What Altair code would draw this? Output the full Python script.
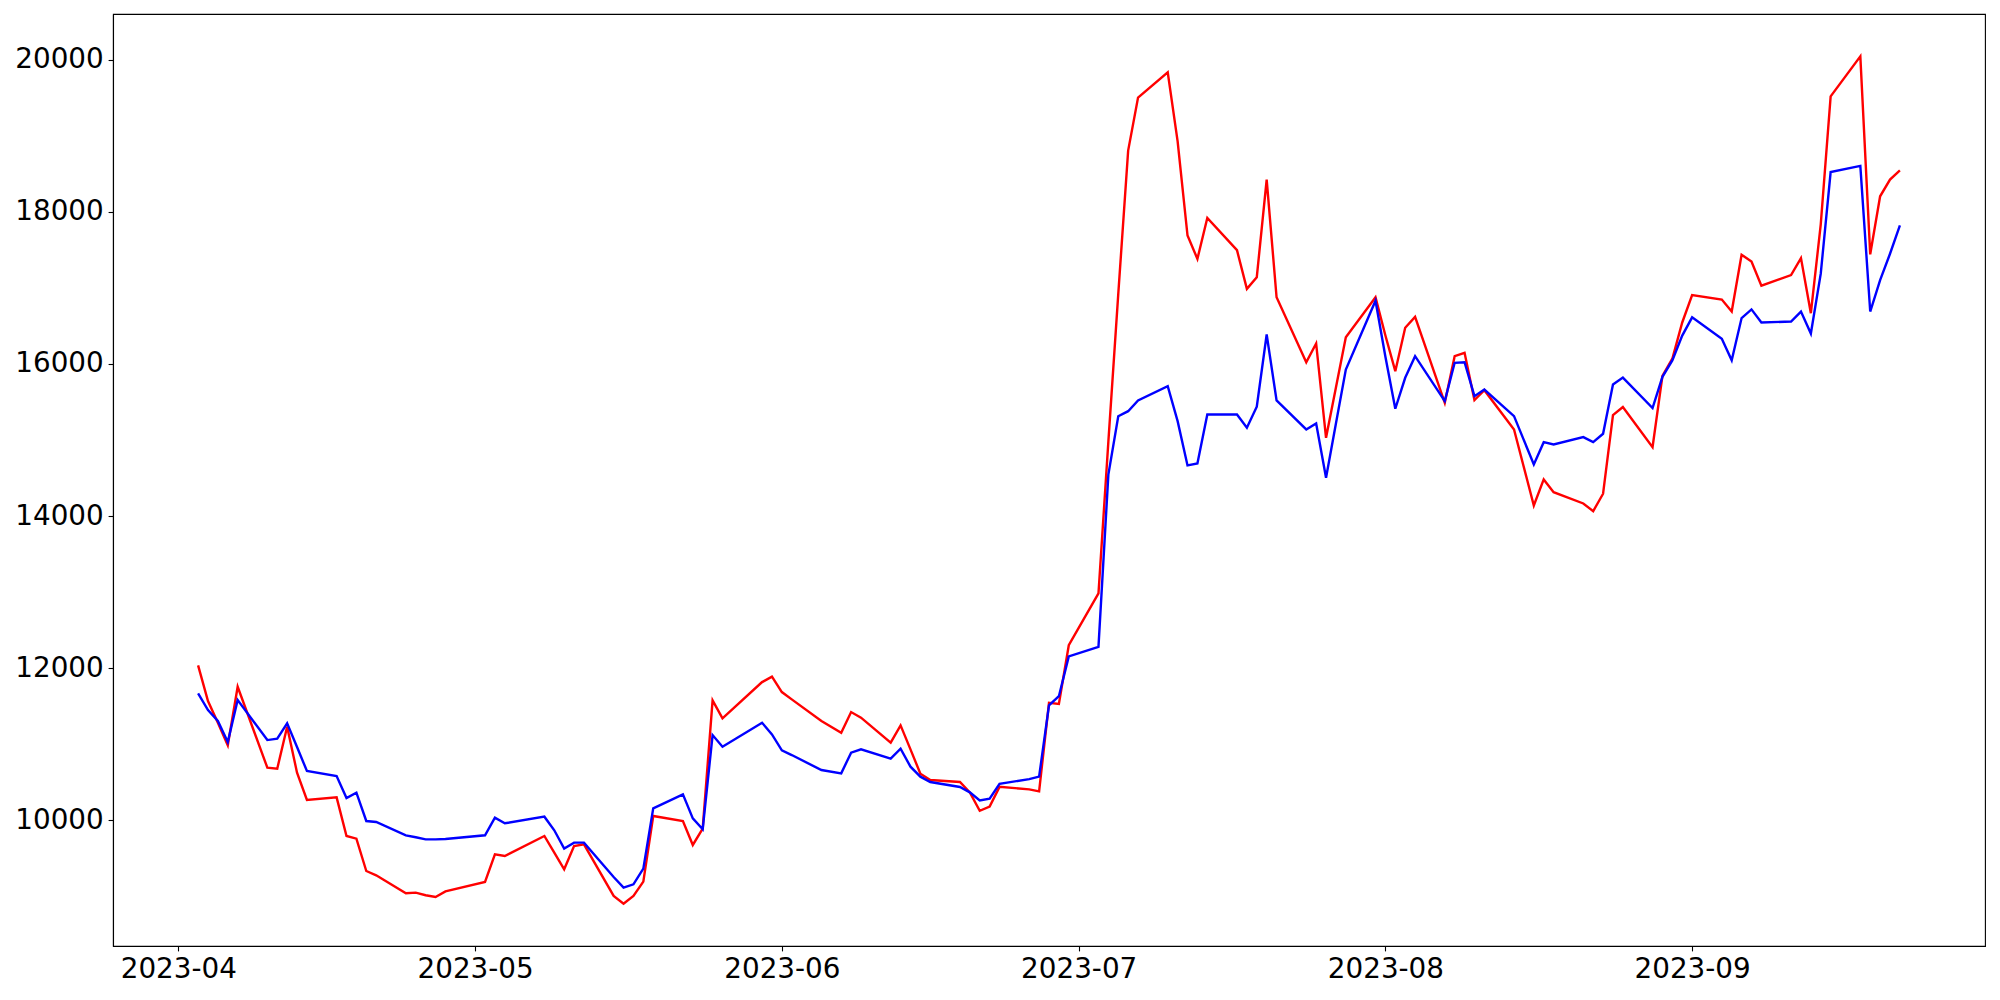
import altair as alt
import pandas as pd

apr_dates = ["2023-04-03", "2023-04-04", "2023-04-05", "2023-04-06", "2023-04-07",
             "2023-04-10", "2023-04-11", "2023-04-12", "2023-04-13", "2023-04-14",
             "2023-04-17", "2023-04-18", "2023-04-19", "2023-04-20", "2023-04-21",
             "2023-04-24", "2023-04-25", "2023-04-26", "2023-04-27", "2023-04-28"]
may_dates = ["2023-05-02", "2023-05-03", "2023-05-04", "2023-05-08", "2023-05-09",
             "2023-05-10", "2023-05-11", "2023-05-12", "2023-05-15", "2023-05-16",
             "2023-05-17", "2023-05-18", "2023-05-19", "2023-05-22", "2023-05-23",
             "2023-05-24", "2023-05-25", "2023-05-26", "2023-05-30", "2023-05-31"]
jun_dates = ["2023-06-01", "2023-06-02", "2023-06-05", "2023-06-07", "2023-06-08",
             "2023-06-09", "2023-06-12", "2023-06-13", "2023-06-14", "2023-06-15",
             "2023-06-16", "2023-06-19", "2023-06-20", "2023-06-21", "2023-06-22",
             "2023-06-23", "2023-06-26", "2023-06-27", "2023-06-28", "2023-06-29",
             "2023-06-30"]
jul_dates = ["2023-07-03", "2023-07-04", "2023-07-05", "2023-07-06", "2023-07-07",
             "2023-07-10", "2023-07-11", "2023-07-12", "2023-07-13", "2023-07-14",
             "2023-07-17", "2023-07-18", "2023-07-19", "2023-07-20", "2023-07-21",
             "2023-07-24", "2023-07-25", "2023-07-26", "2023-07-27", "2023-07-28",
             "2023-07-31"]
aug_dates = ["2023-08-01", "2023-08-02", "2023-08-03", "2023-08-04", "2023-08-07",
             "2023-08-08", "2023-08-09", "2023-08-10", "2023-08-11", "2023-08-14",
             "2023-08-16", "2023-08-17", "2023-08-18", "2023-08-21", "2023-08-22",
             "2023-08-23", "2023-08-24", "2023-08-25", "2023-08-28", "2023-08-29",
             "2023-08-30", "2023-08-31"]
sep_dates = ["2023-09-01", "2023-09-04", "2023-09-05", "2023-09-06", "2023-09-07",
             "2023-09-08", "2023-09-11", "2023-09-12", "2023-09-13", "2023-09-14",
             "2023-09-15", "2023-09-18", "2023-09-19", "2023-09-20", "2023-09-21",
             "2023-09-22"]

red_apr = [12037, 11568, 11283, 10985, 11756, 10692, 10679, 11231, 10626, 10267,
           10302, 9794, 9759, 9334, 9277, 9041, 9050, 9015, 8993, 9065]
red_may = [9189, 9553, 9531, 9794, 9575, 9356, 9663, 9685, 9006, 8905,
           9006, 9194, 10057, 9991, 9676, 9891, 11577, 11340, 11817, 11888]
red_jun = [11686, 11590, 11305, 11152, 11423, 11349, 11021, 11248, 10933, 10613,
           10530, 10504, 10366, 10125, 10180, 10440, 10407, 10381, 11545, 11531, 12301]
red_jul = [12983, 14977, 16917, 18804, 19500, 19833, 18926, 17687, 17380, 17919,
           17494, 16986, 17139, 18423, 16876, 16022, 16268, 15028, 15690, 16351, 16876]
red_aug = [16373, 15904, 16474, 16618, 15488, 16101, 16145, 15523, 15654, 15138,
           14139, 14481, 14314, 14165, 14064, 14293, 15326, 15433, 14905, 15842,
           16068, 16544]
red_sep = [16905, 16846, 16688, 17435, 17344, 17027, 17168, 17390, 16666, 17833,
           19516, 20042, 17440, 18203, 18422, 18544]

blue_apr = [11669, 11450, 11305, 11029, 11581, 11055, 11073, 11275, 10963, 10648,
            10582, 10293, 10364, 9991, 9978, 9803, 9777, 9750, 9750, 9755]
blue_may = [9803, 10035, 9961, 10048, 9869, 9628, 9707, 9707, 9255, 9115,
            9159, 9365, 10158, 10342, 10026, 9882, 11121, 10968, 11283, 11130]
blue_jun = [10920, 10858, 10661, 10618, 10889, 10933, 10810, 10942, 10705, 10574,
            10504, 10438, 10368, 10260, 10285, 10481, 10541, 10574, 11511, 11632, 12154]
blue_jul = [12281, 14544, 15312, 15378, 15520, 15707, 15247, 14665, 14691, 15335,
            15335, 15160, 15436, 16386, 15519, 15138, 15217, 14503, 15217, 15926, 16830]
blue_aug = [16093, 15410, 15817, 16101, 15510, 16014, 16022, 15575, 15663, 15313,
            14678, 14971, 14941, 15037, 14971, 15081, 15729, 15820, 15420, 15830,
            16046, 16372]
blue_sep = [16611, 16331, 16046, 16602, 16716, 16544, 16557, 16688, 16399, 17186,
            18521, 18603, 16688, 17100, 17448, 17820]

y_ticks = [10000, 12000, 14000, 16000, 18000, 20000]
x_tick_months = [4, 5, 6, 7, 8, 9]

dates = apr_dates + may_dates + jun_dates + jul_dates + aug_dates + sep_dates
red = red_apr + red_may + red_jun + red_jul + red_aug + red_sep
blue = blue_apr + blue_may + blue_jun + blue_jul + blue_aug + blue_sep

red_df = pd.DataFrame({"date": dates, "value": red})
blue_df = pd.DataFrame({"date": dates, "value": blue})

x_enc = alt.X(
    "date:T",
    title=None,
    scale=alt.Scale(
        type="utc",
        domain=[
            alt.DateTime(year=2023, month=3, date=25, hours=9, minutes=36, utc=True),
            alt.DateTime(year=2023, month=9, date=30, hours=14, minutes=24, utc=True),
        ],
    ),
    axis=alt.Axis(
        values=[alt.DateTime(year=2023, month=m, date=1, utc=True) for m in x_tick_months],
        labelExpr="utcFormat(datum.value, '%Y-%m')",
        labelFlush=False,
        labelOverlap=False,
    ),
)
y_enc = alt.Y(
    "value:Q",
    title=None,
    scale=alt.Scale(domain=[8348, 20599], nice=False, zero=False),
    axis=alt.Axis(values=y_ticks, format="d", labelOverlap=False),
)

red_line = alt.Chart(red_df).mark_line(color="#ff0000", strokeWidth=2.4).encode(x=x_enc, y=y_enc)
blue_line = alt.Chart(blue_df).mark_line(color="#0000ff", strokeWidth=2.4).encode(x=x_enc, y=y_enc)

chart = (
    alt.layer(red_line, blue_line)
    .properties(
        width=1872,
        height=932,
        autosize=alt.AutoSizeParams(type="none"),
        padding={"left": 105, "top": 6, "right": 2, "bottom": 38},
        background="white",
    )
    .configure_view(stroke="black", strokeWidth=1.1)
    .configure_axis(
        grid=False,
        domainColor="black",
        domainWidth=1.1,
        tickColor="black",
        tickWidth=1.1,
        tickSize=4.9,
        labelPadding=4.9,
        labelFont="DejaVu Sans",
        labelFontSize=27.8,
        labelColor="black",
    )
)

chart.save("out.html", embed_options={"renderer": "svg", "actions": False})
